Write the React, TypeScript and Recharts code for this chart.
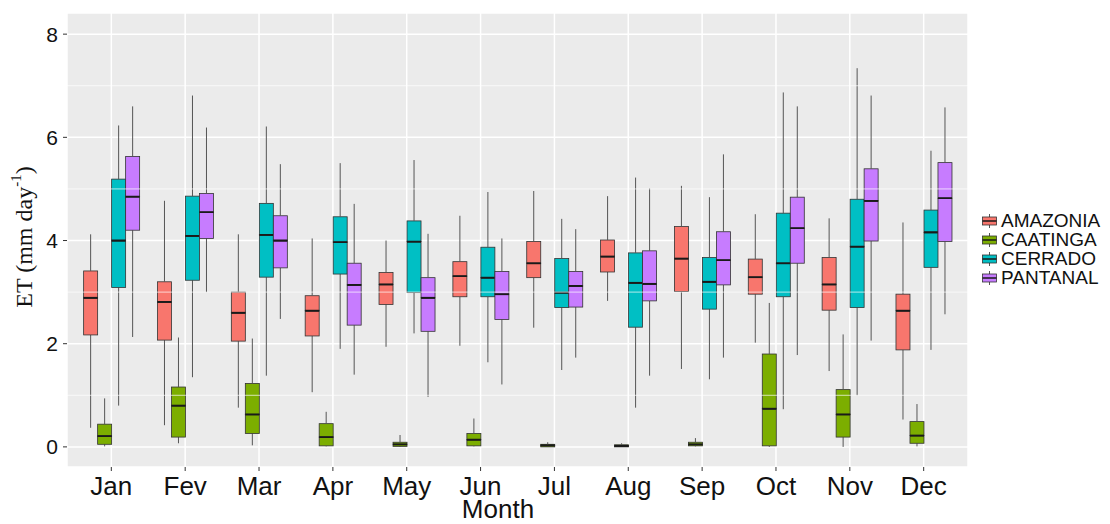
import {
  ComposedChart, Bar, XAxis, YAxis, CartesianGrid, ReferenceLine, Label
} from 'recharts';

const MONTHS = ['Jan', 'Fev', 'Mar', 'Apr', 'May', 'Jun', 'Jul', 'Aug', 'Sep', 'Oct', 'Nov', 'Dec'];
const Y_TICKS = [0, 2, 4, 6, 8];
const MINOR_TICKS = [1, 3, 5, 7];

// [min, q1, median, q3, max] per month
const AMAZONIA = [
  [0.37, 2.17, 2.89, 3.41, 4.12],
  [0.42, 2.07, 2.81, 3.2, 4.77],
  [0.76, 2.05, 2.6, 3.0, 4.12],
  [1.06, 2.15, 2.64, 2.93, 4.04],
  [1.94, 2.76, 3.15, 3.38, 4.0],
  [1.96, 2.91, 3.31, 3.59, 4.48],
  [2.31, 3.28, 3.56, 3.98, 4.96],
  [2.83, 3.39, 3.69, 4.01, 4.86],
  [1.51, 3.01, 3.65, 4.27, 5.06],
  [2.02, 2.96, 3.29, 3.64, 4.51],
  [1.47, 2.65, 3.15, 3.67, 4.43],
  [0.53, 1.88, 2.64, 2.96, 4.35],
];
const CAATINGA = [
  [0.01, 0.05, 0.21, 0.44, 0.94],
  [0.07, 0.19, 0.8, 1.16, 2.12],
  [0.03, 0.26, 0.63, 1.23, 2.1],
  [0.01, 0.02, 0.19, 0.45, 0.68],
  [0.0, 0.01, 0.05, 0.09, 0.23],
  [0.01, 0.02, 0.14, 0.26, 0.55],
  [0.0, 0.0, 0.03, 0.05, 0.09],
  [0.0, 0.0, 0.02, 0.04, 0.07],
  [0.01, 0.02, 0.05, 0.09, 0.17],
  [0.0, 0.02, 0.74, 1.8, 2.79],
  [0.0, 0.19, 0.63, 1.11, 2.18],
  [0.01, 0.07, 0.22, 0.49, 0.83],
];
const CERRADO = [
  [0.8, 3.09, 4.0, 5.19, 6.23],
  [1.35, 3.23, 4.09, 4.86, 6.81],
  [1.38, 3.29, 4.11, 4.72, 6.21],
  [1.9, 3.35, 3.97, 4.46, 5.5],
  [2.2, 2.99, 3.98, 4.38, 5.56],
  [1.64, 2.91, 3.28, 3.87, 4.94],
  [1.49, 2.7, 2.99, 3.65, 4.42],
  [0.76, 2.32, 3.18, 3.76, 5.22],
  [1.31, 2.67, 3.2, 3.67, 4.84],
  [0.73, 2.91, 3.56, 4.53, 6.87],
  [1.0, 2.7, 3.88, 4.8, 7.34],
  [1.88, 3.48, 4.16, 4.59, 5.74],
];
const PANTANAL = [
  [2.13, 4.2, 4.85, 5.63, 6.6],
  [3.0, 4.04, 4.55, 4.91, 6.19],
  [2.48, 3.47, 4.0, 4.48, 5.48],
  [1.4, 2.36, 3.14, 3.56, 4.71],
  [0.97, 2.24, 2.89, 3.28, 4.13],
  [1.21, 2.47, 2.96, 3.4, 4.04],
  [1.73, 2.71, 3.12, 3.4, 4.22],
  [1.38, 2.83, 3.16, 3.8, 5.01],
  [1.73, 3.14, 3.62, 4.17, 5.67],
  [1.78, 3.56, 4.24, 4.84, 6.6],
  [2.06, 3.99, 4.77, 5.39, 6.81],
  [2.57, 3.98, 4.82, 5.51, 6.58],
];

const SERIES = [
  { key: 'AMAZONIA', color: '#F8766D', stats: AMAZONIA },
  { key: 'CAATINGA', color: '#7CAE00', stats: CAATINGA },
  { key: 'CERRADO', color: '#00BFC4', stats: CERRADO },
  { key: 'PANTANAL', color: '#C77CFF', stats: PANTANAL },
];

// stacked segments: base, lower whisker, lower box, upper box, upper whisker
const data = MONTHS.map((month, i) => {
  const row: Record<string, any> = { month };
  SERIES.forEach((s) => {
    const [mn, q1, md, q3, mx] = s.stats[i];
    row[s.key + '_0'] = mn;
    row[s.key + '_1'] = q1 - mn;
    row[s.key + '_2'] = md - q1;
    row[s.key + '_3'] = q3 - md;
    row[s.key + '_4'] = mx - q3;
  });
  return row;
});

const OUTLINE = '#333333';

function whisker(p: any) {
  const cx = p.x + p.width / 2;
  return <line x1={cx} x2={cx} y1={p.y} y2={p.y + p.height} stroke="#555555" strokeWidth={1} />;
}

function boxPart(fill: string, medianAtTop: boolean) {
  return (p: any) => {
    const my = medianAtTop ? p.y : p.y + p.height;
    return (
      <g>
        <rect x={p.x} y={p.y} width={p.width} height={Math.max(p.height, 0)}
          fill={fill} stroke={OUTLINE} strokeWidth={0.8} />
        <line x1={p.x} x2={p.x + p.width} y1={my} y2={my} stroke="#1a1a1a" strokeWidth={1.8} />
      </g>
    );
  };
}

function LegendKey({ color }: { color: string }) {
  return (
    <svg width={17} height={18} style={{ display: 'block' }}>
      <line x1={8.5} x2={8.5} y1={2} y2={16} stroke="#555" strokeWidth={1} />
      <rect x={1.5} y={5} width={14} height={8} fill={color} stroke={OUTLINE} strokeWidth={0.8} />
      <line x1={1.5} x2={15.5} y1={9} y2={9} stroke="#1a1a1a" strokeWidth={1.5} />
    </svg>
  );
}

export default function App() {
  return (
    <div style={{ position: 'absolute', left: 0, top: 0, width: 1110, height: 524, background: '#fff' }}>
      <ComposedChart width={1110} height={524} data={data}
        margin={{ top: 13, right: 142, bottom: 0, left: 0 }}
        barGap={0} barCategoryGap="12.5%">
        <CartesianGrid fill="#EBEBEB" stroke="#FFFFFF" strokeWidth={1.5} />
        {MINOR_TICKS.map((v) => (
          <ReferenceLine key={v} y={v} stroke="#FFFFFF" strokeWidth={0.7} />
        ))}
        <XAxis dataKey="month" height={57} axisLine={false}
          padding={{ left: 7.4, right: 7.4 }}
          tickSize={4} tickMargin={6} tickLine={{ stroke: OUTLINE }}
          tick={{ fill: '#111', fontSize: 26, fontFamily: 'Liberation Sans, Arial, sans-serif' }}
          interval={0}>
          <Label content={() => (
            <text x={498} y={518} textAnchor="middle" fill="#111" fontSize={26}
              fontFamily="Liberation Sans, Arial, sans-serif">Month</text>
          )} />
        </XAxis>
        <YAxis type="number" width={67} domain={[-0.39, 8.41]} ticks={Y_TICKS}
          allowDataOverflow axisLine={false}
          tickSize={4} tickMargin={5} tickLine={{ stroke: OUTLINE }}
          tick={{ fill: '#111', fontSize: 21, fontFamily: 'Liberation Sans, Arial, sans-serif' }}>
          <Label content={() => (
            <text transform="rotate(-90, 24, 237)" x={24} y={237} textAnchor="middle"
              dominantBaseline="central" fill="#111" fontSize={24}
              fontFamily="Liberation Serif, Times New Roman, serif">
              ET (mm day<tspan fontSize={15} dy={-8}>-1</tspan><tspan dy={8}>)</tspan>
            </text>
          )} />
        </YAxis>
        {SERIES.map((s) => [
          <Bar key={s.key + '0'} dataKey={s.key + '_0'} stackId={s.key} isAnimationActive={false}
            shape={() => <g />} />,
          <Bar key={s.key + '1'} dataKey={s.key + '_1'} stackId={s.key} isAnimationActive={false}
            shape={whisker} />,
          <Bar key={s.key + '2'} dataKey={s.key + '_2'} stackId={s.key} isAnimationActive={false}
            shape={boxPart(s.color, true)} />,
          <Bar key={s.key + '3'} dataKey={s.key + '_3'} stackId={s.key} isAnimationActive={false}
            shape={boxPart(s.color, false)} />,
          <Bar key={s.key + '4'} dataKey={s.key + '_4'} stackId={s.key} isAnimationActive={false}
            shape={whisker} />,
        ])}
      </ComposedChart>
      <div style={{ position: 'absolute', left: 981, top: 211, fontFamily: 'Liberation Sans, Arial, sans-serif' }}>
        {SERIES.map((s) => (
          <div key={s.key} style={{ display: 'flex', alignItems: 'center', height: 19 }}>
            <LegendKey color={s.color} />
            <span style={{ fontSize: 19, lineHeight: '19px', color: '#111', marginLeft: 3 }}>{s.key}</span>
          </div>
        ))}
      </div>
    </div>
  );
}
